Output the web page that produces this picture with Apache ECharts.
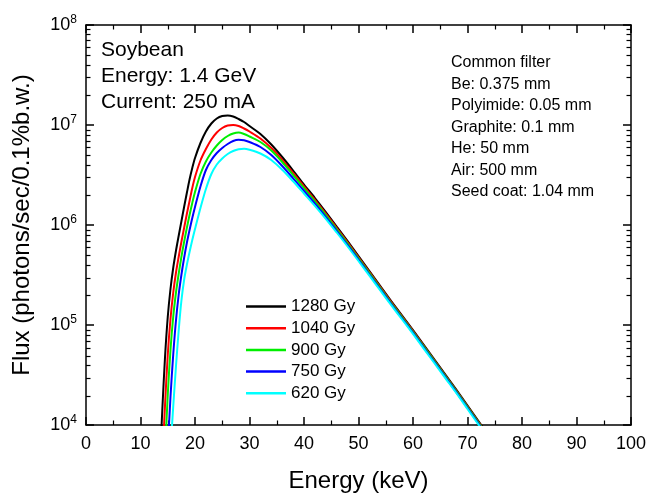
<!DOCTYPE html>
<html>
<head>
<meta charset="utf-8">
<script src="https://cdn.jsdelivr.net/npm/echarts@6/dist/echarts.min.js"></script>
<style>
  html, body { margin: 0; padding: 0; background: #fff; }
  #chart { width: 650px; height: 498px; }
</style>
</head>
<body>
<div id="chart"></div>
<script>
// energy grid (keV)
var energy = [13, 13.5, 14, 14.5, 15, 15.5, 16, 16.5, 17, 17.5, 18, 18.5, 19, 19.5, 20,
  21, 22, 23, 24, 25, 26, 27, 28, 29, 30, 32, 34, 36, 38, 40, 42, 44, 46, 48, 50,
  52, 54, 56, 58, 60, 62, 64, 66, 68, 70, 72, 74];

// flux, as log10 exponents (photons/sec/0.1%b.w.)
var exp1280 = [2.9, 3.55, 4.15, 4.68, 5.08, 5.36, 5.57, 5.74, 5.89, 6.035, 6.18, 6.32, 6.455, 6.57, 6.67,
  6.82, 6.935, 7.015, 7.065, 7.09, 7.095, 7.085, 7.06, 7.03, 6.99, 6.91, 6.805, 6.68, 6.545, 6.405, 6.27, 6.13, 5.985, 5.84, 5.69,
  5.54, 5.39, 5.24, 5.095, 4.95, 4.8, 4.65, 4.5, 4.35, 4.195, 4.04, 3.885];
var exp1040 = [2.35, 3.0, 3.62, 4.2, 4.7, 5.06, 5.32, 5.52, 5.68, 5.83, 5.97, 6.11, 6.24, 6.37, 6.48,
  6.645, 6.76, 6.855, 6.925, 6.97, 6.995, 7.0, 6.99, 6.965, 6.935, 6.865, 6.77, 6.652, 6.52, 6.385, 6.252, 6.114, 5.97, 5.826, 5.677,
  5.528, 5.378, 5.229, 5.084, 4.94, 4.79, 4.64, 4.49, 4.34, 4.185, 4.03, 3.875];
var exp900 = [1.9, 2.55, 3.15, 3.72, 4.3, 4.75, 5.08, 5.32, 5.51, 5.68, 5.83, 5.97, 6.1, 6.22, 6.33,
  6.51, 6.635, 6.725, 6.795, 6.85, 6.89, 6.915, 6.925, 6.91, 6.885, 6.83, 6.745, 6.63, 6.5, 6.368, 6.237, 6.1, 5.957, 5.814, 5.666,
  5.518, 5.369, 5.22, 5.076, 4.932, 4.783, 4.633, 4.484, 4.334, 4.18, 4.025, 3.87];
var exp750 = [1.3, 1.95, 2.6, 3.2, 3.75, 4.28, 4.7, 5.04, 5.3, 5.5, 5.67, 5.82, 5.95, 6.07, 6.18,
  6.385, 6.55, 6.65, 6.72, 6.77, 6.81, 6.84, 6.852, 6.848, 6.83, 6.78, 6.7, 6.59, 6.467, 6.34, 6.213, 6.08, 5.94, 5.799, 5.652,
  5.505, 5.357, 5.209, 5.065, 4.921, 4.772, 4.623, 4.474, 4.324, 4.17, 4.015, 3.86];
var exp620 = [1.0, 1.65, 2.25, 2.8, 3.3, 3.75, 4.18, 4.58, 4.94, 5.24, 5.45, 5.6, 5.73, 5.85, 5.96,
  6.17, 6.36, 6.51, 6.605, 6.665, 6.71, 6.74, 6.758, 6.762, 6.752, 6.715, 6.65, 6.552, 6.437, 6.315, 6.192, 6.062, 5.925, 5.785, 5.64,
  5.493, 5.346, 5.198, 5.055, 4.911, 4.762, 4.613, 4.464, 4.315, 4.16, 4.005, 3.85];

var doseNames = ['1280 Gy', '1040 Gy', '900 Gy', '750 Gy', '620 Gy'];
var doseColors = ['#000000', '#ff0000', '#00ee00', '#0000ff', '#00ffff'];
var doseExps = [exp1280, exp1040, exp900, exp750, exp620];

var minorTicks = [2e4, 3e4, 4e4, 5e4, 6e4, 7e4, 8e4, 9e4,
  2e5, 3e5, 4e5, 5e5, 6e5, 7e5, 8e5, 9e5,
  2e6, 3e6, 4e6, 5e6, 6e6, 7e6, 8e6, 9e6,
  2e7, 3e7, 4e7, 5e7, 6e7, 7e7, 8e7, 9e7];

var leftNotes = ['Soybean', 'Energy: 1.4 GeV', 'Current: 250 mA'];
var rightNotes = ['Common filter', 'Be: 0.375 mm', 'Polyimide: 0.05 mm', 'Graphite: 0.1 mm',
  'He: 50 mm', 'Air: 500 mm', 'Seed coat: 1.04 mm'];

var FONT = '"Liberation Sans", Arial, sans-serif';
var axisCol = '#000';
var plotRect = { left: 86, right: 19, top: 25, bottom: 72, containLabel: false };

var series = doseNames.map(function (name, i) {
  return {
    name: name,
    type: 'line',
    xAxisIndex: 0,
    yAxisIndex: 0,
    showSymbol: false,
    symbol: 'none',
    smooth: 0.3,
    clip: true,
    lineStyle: { color: doseColors[i], width: 2 },
    itemStyle: { color: doseColors[i] },
    data: energy.map(function (e, k) { return [e, Math.pow(10, doseExps[i][k])]; })
  };
});

var graphics = [];
leftNotes.forEach(function (t, i) {
  graphics.push({ type: 'text', x: 101, y: 50 + i * 26.3,
    style: { text: t, font: '21px ' + FONT, fill: '#000', verticalAlign: 'middle' } });
});
rightNotes.forEach(function (t, i) {
  graphics.push({ type: 'text', x: 451, y: 63 + i * 21.5,
    style: { text: t, font: '16px ' + FONT, fill: '#000', verticalAlign: 'middle' } });
});

function logAxis(pos, major, gridIndex) {
  return {
    type: 'log', logBase: 10, min: 1e4, max: 1e8, position: pos, gridIndex: gridIndex,
    axisLine: { show: major, onZero: false, lineStyle: { color: axisCol, width: 1.5 } },
    axisTick: major
      ? { show: true, inside: true, length: 8, lineStyle: { color: axisCol, width: 1.5 } }
      : { show: true, inside: true, length: 4.5, customValues: minorTicks, lineStyle: { color: axisCol, width: 1.2 } },
    splitLine: { show: false },
    axisLabel: { show: false }
  };
}

var yLeft = logAxis('left', true, 0);
yLeft.axisLabel = {
  show: true, margin: 9, color: '#000', fontFamily: FONT, fontSize: 18,
  formatter: function (v) { return '10{sup|' + Math.round(Math.log10(v)) + '}'; },
  rich: { sup: { fontSize: 12, fontFamily: FONT, color: '#000', padding: [0, 0, 10, 0] } }
};
yLeft.name = 'Flux (photons/sec/0.1%b.w.)';
yLeft.nameLocation = 'middle';
yLeft.nameGap = 52;
yLeft.nameTextStyle = { fontSize: 24, fontFamily: FONT, color: '#000' };

function xAxis(pos, labels, gridIndex, visible) {
  return {
    type: 'value', min: 0, max: 100, interval: 10, position: pos, gridIndex: gridIndex, show: visible,
    axisLine: { show: true, onZero: false, lineStyle: { color: axisCol, width: 1.5 } },
    axisTick: { show: true, inside: true, length: 8, lineStyle: { color: axisCol, width: 1.5 } },
    minorTick: { show: true, splitNumber: 2, length: 4.5, lineStyle: { color: axisCol, width: 1.2 } },
    splitLine: { show: false },
    axisLabel: labels
      ? { show: true, margin: 10, color: '#000', fontFamily: FONT, fontSize: 18 }
      : { show: false }
  };
}

var xBottom = xAxis('bottom', true, 0, true);
xBottom.name = 'Energy (keV)';
xBottom.nameLocation = 'middle';
xBottom.nameGap = 44;
xBottom.nameTextStyle = { fontSize: 24, fontFamily: FONT, color: '#000' };

var option = {
  backgroundColor: '#fff',
  animation: false,
  grid: [plotRect, plotRect],
  xAxis: [xBottom, xAxis('top', false, 0, true), xAxis('bottom', false, 1, false)],
  yAxis: [yLeft, logAxis('right', true, 0), logAxis('left', false, 1), logAxis('right', false, 1)],
  legend: {
    orient: 'vertical', left: 246, top: 298, padding: 0,
    icon: 'rect', itemWidth: 40, itemHeight: 2.5, itemGap: 4.7,
    textStyle: { fontSize: 17, fontFamily: FONT, color: '#000', lineHeight: 17 },
    data: doseNames
  },
  graphic: graphics,
  series: series
};

var myChart = echarts.init(document.getElementById('chart'));
myChart.setOption(option);
</script>
</body>
</html>
